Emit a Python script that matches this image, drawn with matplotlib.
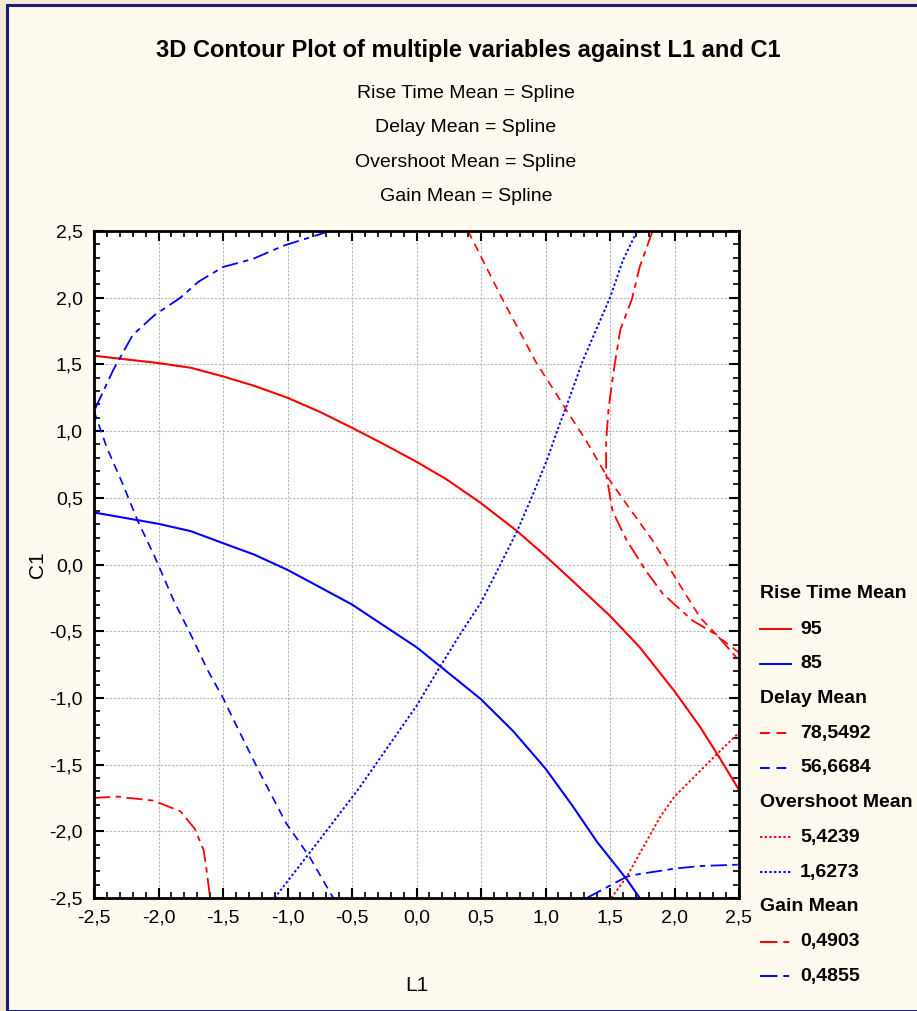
import matplotlib
matplotlib.use("Agg")
import matplotlib.pyplot as plt
from matplotlib.lines import Line2D
from matplotlib.patches import Rectangle
from matplotlib.ticker import MultipleLocator, FuncFormatter

plt.rcParams['font.family'] = ['Liberation Sans Narrow', 'Liberation Sans', 'DejaVu Sans']

# contour lines (L1, C1)
rise95_x = [-2.5, -2.0, -1.75, -1.5, -1.26, -1.0, -0.74, -0.5, -0.25, 0.0, 0.23, 0.5, 0.78, 1.0,
            1.24, 1.5, 1.73, 2.0, 2.2, 2.35, 2.5]
rise95_y = [1.565, 1.51, 1.475, 1.41, 1.34, 1.25, 1.14, 1.025, 0.90, 0.77, 0.64, 0.46, 0.25, 0.064,
            -0.15, -0.385, -0.62, -0.95, -1.22, -1.45, -1.69]
rise85_x = [-2.5, -2.0, -1.75, -1.5, -1.26, -1.0, -0.74, -0.5, -0.25, 0.0, 0.18, 0.5, 0.75, 1.0,
            1.21, 1.4, 1.63, 1.73]
rise85_y = [0.39, 0.305, 0.25, 0.16, 0.075, -0.04, -0.175, -0.30, -0.46, -0.62, -0.76, -1.01, -1.25, -1.53,
            -1.81, -2.08, -2.36, -2.5]

delay78_x = [0.40, 0.66, 0.93, 1.07, 1.16, 1.32, 1.47, 1.63, 1.83, 2.02, 2.20, 2.35, 2.5]
delay78_y = [2.5, 2.0, 1.51, 1.30, 1.16, 0.92, 0.67, 0.45, 0.18, -0.12, -0.40, -0.55, -0.66]
delay56_x = [-2.5, -2.40, -2.28, -2.16, -2.03, -1.88, -1.75, -1.62, -1.50, -1.39, -1.21, -1.01, -0.83, -0.645]
delay56_y = [1.15, 0.875, 0.61, 0.325, 0.06, -0.275, -0.525, -0.79, -1.0, -1.22, -1.57, -1.94, -2.19, -2.5]

over54_x = [1.51, 1.63, 1.89, 2.0, 2.33, 2.5]
over54_y = [-2.5, -2.34, -1.89, -1.74, -1.42, -1.26]
over16_x = [-1.10, -0.70, -0.44, 0.0, 0.18, 0.34, 0.5, 0.65, 0.78, 0.90, 1.01, 1.09, 1.16, 1.29, 1.50,
            1.60, 1.71]
over16_y = [-2.5, -2.0, -1.67, -1.06, -0.77, -0.52, -0.285, 0.0, 0.25, 0.52, 0.78, 1.0, 1.18, 1.53, 2.0,
            2.28, 2.5]

gain49_x1 = [1.83, 1.73, 1.67, 1.58, 1.53, 1.49, 1.47, 1.47, 1.52, 1.63, 1.78, 1.91, 2.14, 2.33, 2.5]
gain49_y1 = [2.5, 2.23, 1.99, 1.76, 1.46, 1.18, 0.92, 0.68, 0.40, 0.18, -0.05, -0.22, -0.42, -0.53, -0.72]
gain49_x2 = [-2.5, -2.32, -2.04, -1.83, -1.72, -1.65, -1.63, -1.60]
gain49_y2 = [-1.75, -1.74, -1.77, -1.85, -1.98, -2.14, -2.27, -2.5]
gain48_x1 = [-2.49, -2.35, -2.20, -2.03, -1.83, -1.69, -1.50, -1.27, -1.03, -0.67]
gain48_y1 = [1.17, 1.46, 1.72, 1.87, 2.0, 2.12, 2.23, 2.29, 2.39, 2.5]
gain48_x2 = [1.32, 1.63, 1.73, 2.0, 2.2, 2.5]
gain48_y2 = [-2.5, -2.34, -2.32, -2.28, -2.26, -2.25]

subtitles = ["Rise Time Mean = Spline", "Delay Mean = Spline",
             "Overshoot Mean = Spline", "Gain Mean = Spline"]
legend_groups = [("Rise Time Mean", ["95", "85"]),
                 ("Delay Mean", ["78,5492", "56,6684"]),
                 ("Overshoot Mean", ["5,4239", "1,6273"]),
                 ("Gain Mean", ["0,4903", "0,4855"])]

RED = '#ff0000'
BLUE = '#0000ff'
DASH = (0, (5, 3.5))
DOT = (0, (1.2, 1.2))
GAIN = (0, (9, 3, 3, 3))
styles = ['-', DASH, DOT, GAIN]

W, H = 917, 1011
fig = plt.figure(figsize=(W / 100, H / 100), dpi=100)
fig.patch.set_facecolor('#f4e9d6')
fig.add_artist(Rectangle((7 / W, 0), 1, 1 - 5 / H, transform=fig.transFigure,
                         facecolor='#fffaf0', edgecolor='#1c1c78', lw=2.2, zorder=0))

ax = fig.add_axes([94 / W, 1 - 898 / H, 645 / W, 667 / H])
ax.set_facecolor('white')

ax.plot(rise95_x, rise95_y, color=RED, ls='-', lw=1.5)
ax.plot(rise85_x, rise85_y, color=BLUE, ls='-', lw=1.5)
ax.plot(delay78_x, delay78_y, color=RED, ls=DASH, lw=1.2)
ax.plot(delay56_x, delay56_y, color=BLUE, ls=DASH, lw=1.2)
ax.plot(over54_x, over54_y, color=RED, ls=DOT, lw=1.4)
ax.plot(over16_x, over16_y, color=BLUE, ls=DOT, lw=1.4)
ax.plot(gain49_x1, gain49_y1, color=RED, ls=GAIN, lw=1.3)
ax.plot(gain49_x2, gain49_y2, color=RED, ls=GAIN, lw=1.3)
ax.plot(gain48_x1, gain48_y1, color=BLUE, ls=GAIN, lw=1.3)
ax.plot(gain48_x2, gain48_y2, color=BLUE, ls=GAIN, lw=1.3)

ax.set_xlim(-2.5, 2.5)
ax.set_ylim(-2.5, 2.5)
ax.xaxis.set_major_locator(MultipleLocator(0.5))
ax.yaxis.set_major_locator(MultipleLocator(0.5))
ax.xaxis.set_minor_locator(MultipleLocator(0.1))
ax.yaxis.set_minor_locator(MultipleLocator(0.1))
fmt = FuncFormatter(lambda v, p: ('%.1f' % v).replace('.', ',').replace('-0,0', '0,0'))
ax.xaxis.set_major_formatter(fmt)
ax.yaxis.set_major_formatter(fmt)
ax.tick_params(which='both', direction='in', top=True, right=True, colors='black',
               labelsize=14, width=1.5)
ax.tick_params(which='major', length=7, pad=8)
ax.tick_params(which='minor', length=4, width=1.2)
ax.grid(True, which='major', color='#b8b8b8', ls=(0, (2, 1.5)), lw=0.8)
for s in ax.spines.values():
    s.set_linewidth(2)
ax.set_xlabel('L1', fontsize=15, labelpad=36)
ax.set_ylabel('C1', fontsize=15, labelpad=2)

fig.text(468 / W, 1 - 50 / H, "3D Contour Plot of multiple variables against L1 and C1",
         ha='center', va='center', fontsize=17, fontweight='bold')
for i, t in enumerate(subtitles):
    fig.text(466 / W, 1 - (93 + 34.6 * i) / H, t, ha='center', va='center', fontsize=14)

# legend drawn by hand to keep the header/entry layout
y = 594
for gi, (head, labels) in enumerate(legend_groups):
    fig.text(760 / W, 1 - y / H, head, ha='left', va='center', fontsize=14, fontweight='bold')
    y += 35
    for li, lab in enumerate(labels):
        col = RED if li == 0 else BLUE
        fig.add_artist(Line2D([760 / W, 791 / W], [1 - y / H, 1 - y / H], transform=fig.transFigure,
                              color=col, ls=styles[gi], lw=1.4))
        fig.text(800 / W, 1 - y / H, lab, ha='left', va='center', fontsize=14, fontweight='bold')
        y += 34.6

fig.savefig('out.png', dpi=100, facecolor=fig.get_facecolor())
